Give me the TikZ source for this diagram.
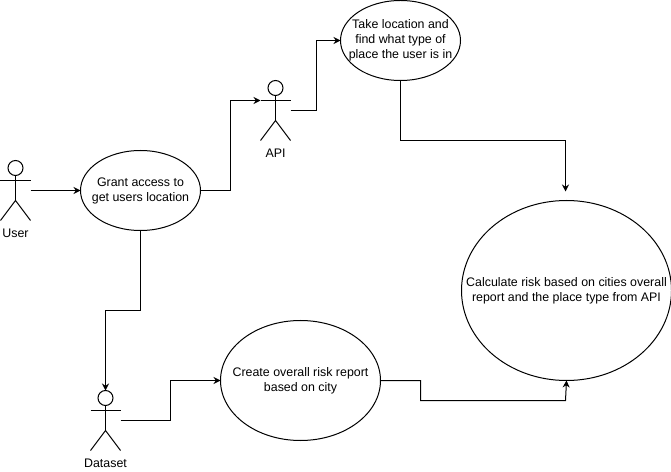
\documentclass[tikz,border=0pt]{standalone}
\usepackage{fontspec}
\setmainfont{Liberation Sans}
\usepackage{tikz}
\usetikzlibrary{shapes.geometric,arrows.meta}
\tikzset{
  usecase/.style={draw,ellipse,inner sep=0pt,outer sep=0pt},
  casetext/.style={align=center,font=\fontsize{12.45}{15}\selectfont,inner sep=0pt},
  actor/.style={minimum width=30bp,minimum height=60bp,inner sep=0pt,outer sep=0pt},
  actorname/.style={font=\fontsize{12.45}{15}\selectfont,inner sep=0pt},
  flow/.style={-{Stealth[length=7bp,width=7bp]}},
}
\newcommand{\stickman}[1]{
 \draw ([yshift=-7.5bp]#1.north) circle (7.5bp);
 \draw ([yshift=-15bp]#1.north)--([yshift=-40bp]#1.north);
 \draw ([yshift=-20bp]#1.north west)--([yshift=-20bp]#1.north east);
 \draw (#1.south west)--([yshift=-40bp]#1.north)--(#1.south east);
 \coordinate (#1-arm) at ([yshift=-20bp]#1.north west);
}

\begin{document}
\begin{tikzpicture}[x=1bp,y=-1bp,line width=1bp]
 \useasboundingbox (-0.5,-0.5) rectangle (670.5,471.5);
 % actors
 \node[actor] (user) at (15,190) {}; \stickman{user}
 \node[actor] (api) at (275,110) {}; \stickman{api}
 \node[actor] (dataset) at (105,420) {}; \stickman{dataset}
 \node[actorname] (userlabel) at (15,233) {User};
 \node[actorname] (apilabel) at (275,153) {API};
 \node[actorname] (datasetlabel) at (105,463) {Dataset};
 % use cases
 \node[usecase,minimum width=120bp,minimum height=80bp,
   label={[casetext]center:Grant access to\\get users location}] (grant) at (140,190) {};
 \node[usecase,minimum width=120bp,minimum height=80bp,
   label={[casetext]center:Take location and\\find what type of\\place the user is in}] (place) at (400,40) {};
 \node[usecase,minimum width=160bp,minimum height=120bp,
   label={[casetext]center:Create overall risk report\\based on city}] (report) at (300,380) {};
 \node[usecase,minimum width=210bp,minimum height=180bp,
   label={[casetext]center:Calculate risk based on cities overall\\report and the place type from API}] (risk) at (566,290) {};
 \coordinate (riskin) at (565,191);
 % connectors
 \draw[flow] (user.east) -- (grant.west);
 \draw[flow] (grant.east) -- ++(30,0) |- (api-arm);
 \draw[flow] (api.east) -- ++(26,0) |- (place.west);
 \draw[flow] (place.south) -- ++(0,60) -| (riskin);
 \draw[flow] (grant.south) -- ++(0,80) -| (dataset.north);
 \draw[flow] (dataset.east) -- ++(50,0) |- (report.west);
 \draw[flow] (report.east) -- ++(40,0) |- ++(145,20) -- (risk.south);
\end{tikzpicture}
\end{document}
